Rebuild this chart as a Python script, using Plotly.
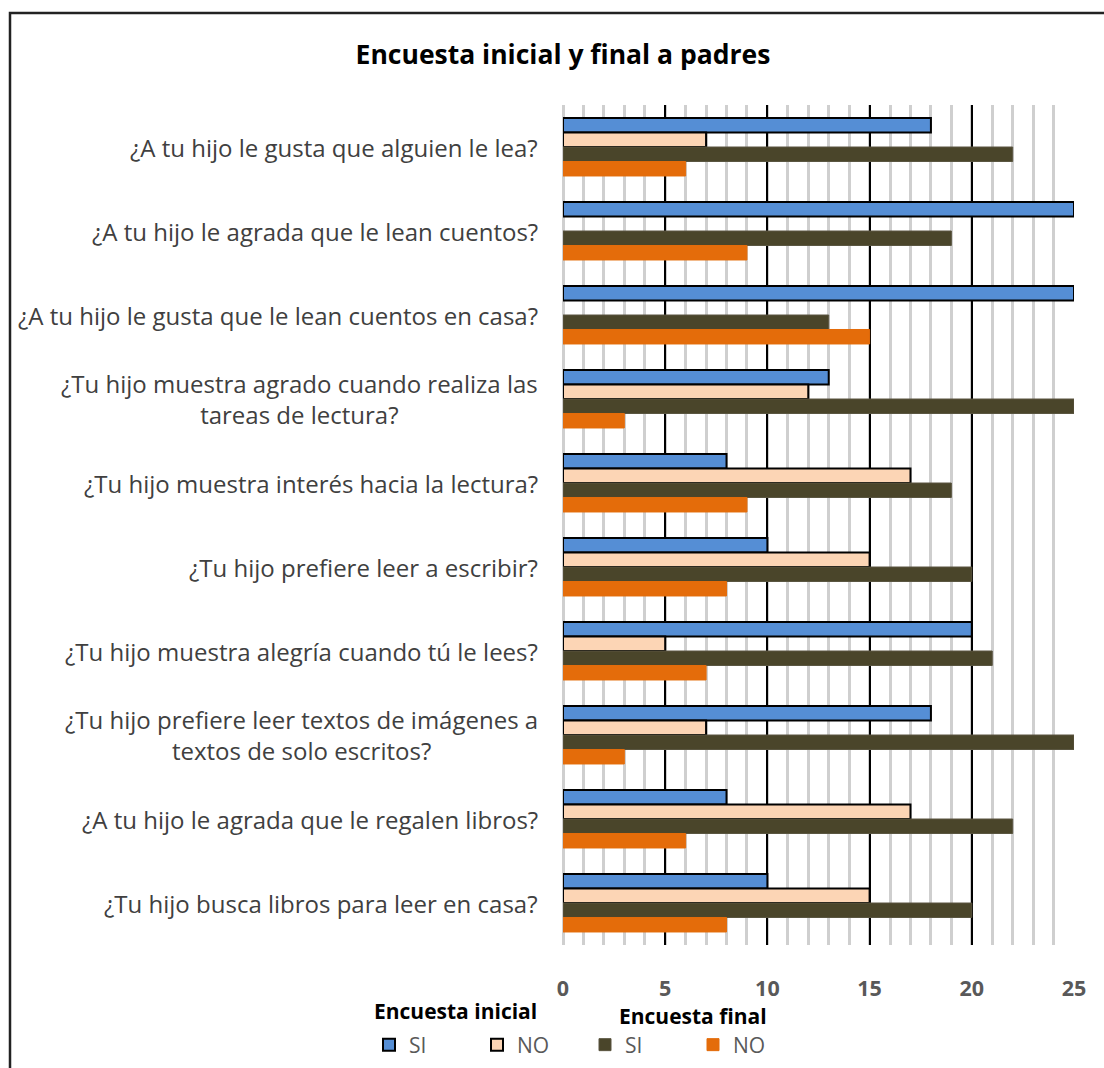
import plotly.graph_objects as go

# Survey questions (top to bottom)
preguntas = [
    "¿A tu hijo le gusta que alguien le lea?",
    "¿A tu hijo le agrada que le lean cuentos?",
    "¿A tu hijo le gusta que le lean cuentos en casa?",
    "¿Tu hijo muestra agrado cuando realiza las<br>tareas de lectura?",
    "¿Tu hijo muestra interés hacia la lectura?",
    "¿Tu hijo prefiere leer a escribir?",
    "¿Tu hijo muestra alegría cuando tú le lees?",
    "¿Tu hijo prefiere leer textos de imágenes a<br>textos de solo escritos?",
    "¿A tu hijo le agrada que le regalen libros?",
    "¿Tu hijo busca libros para leer en casa?",
]

inicial_si = [18, 25, 25, 13, 8, 10, 20, 18, 8, 10]
inicial_no = [7, 0, 0, 12, 17, 15, 5, 7, 17, 15]
final_si = [22, 19, 13, 25, 19, 20, 21, 25, 22, 20]
final_no = [6, 9, 15, 3, 9, 8, 7, 3, 6, 8]

ticks_x = [0, 5, 10, 15, 20, 25]

# plot-area geometry in pixels (used to place items outside the axes)
W, H = 1104, 1068
L, R, T, B = 563, 30, 105, 123
PW, PH = W - L - R, H - T - B


def px_x(px):
    return (px - L) / PW


def px_y(py):
    return (H - B - py) / PH


ids = list(range(len(preguntas)))


def outline(vals, w):
    return [0 if v == 0 else w for v in vals]


fig = go.Figure()
fig.add_trace(go.Bar(y=ids, x=inicial_si, orientation="h", name="SI",
                     marker=dict(color="#558ED5",
                                 line=dict(color="#000000", width=outline(inicial_si, 2)))))
fig.add_trace(go.Bar(y=ids, x=inicial_no, orientation="h", name="NO",
                     marker=dict(color="#FCD5B5",
                                 line=dict(color="#000000", width=outline(inicial_no, 2)))))
fig.add_trace(go.Bar(y=ids, x=final_si, orientation="h", name="SI",
                     marker=dict(color="#4A452A", line=dict(color="#5a5540", width=1))))
fig.add_trace(go.Bar(y=ids, x=final_no, orientation="h", name="NO",
                     marker=dict(color="#E46C0A", line=dict(color="#E46C0A", width=1))))

FONT = "Open Sans"
label_font = dict(family=FONT, size=24, color="#404040")
annotations = []
for i, q in enumerate(preguntas):
    annotations.append(dict(x=px_x(540), xref="paper", y=i, yref="y", text=q,
                            xanchor="right", yanchor="middle", align="center",
                            showarrow=False, font=label_font))

hdr_font = dict(family=FONT, size=21, color="#000000")
annotations.append(dict(x=px_x(455), y=px_y(1011), xref="paper", yref="paper",
                        text="<b>Encuesta inicial</b>", showarrow=False, font=hdr_font,
                        xanchor="center", yanchor="middle"))
annotations.append(dict(x=px_x(693), y=px_y(1016), xref="paper", yref="paper",
                        text="<b>Encuesta final</b>", showarrow=False, font=hdr_font,
                        xanchor="center", yanchor="middle"))

fig.update_layout(
    width=W, height=H,
    margin=dict(l=L, r=R, t=T, b=B, autoexpand=False),
    paper_bgcolor="white", plot_bgcolor="white",
    barmode="group", bargap=0.31, bargroupgap=0,
    title=dict(text="<b>Encuesta inicial y final a padres</b>", x=px_x(563), xref="paper",
               xanchor="center", y=1 - 55 / H, yanchor="middle",
               font=dict(family=FONT, size=26.5, color="#000000")),
    xaxis=dict(range=[0, 25], tickvals=ticks_x, showgrid=True, gridcolor="#000000",
               gridwidth=2, zeroline=True, zerolinecolor="#cfcfcf", zerolinewidth=3,
               showline=False, ticks="", ticklabelstandoff=28,
               tickfont=dict(family=FONT, size=21.5, color="#595959", weight="bold"),
               minor=dict(dtick=1, showgrid=True, gridcolor="#cfcfcf", gridwidth=3)),
    yaxis=dict(range=[len(preguntas) - 0.5, -0.5], showticklabels=False,
               showgrid=False, zeroline=False, showline=False, ticks=""),
    showlegend=True,
    legend=dict(orientation="h", x=px_x(369), y=px_y(1045), xanchor="left", yanchor="middle",
                entrywidth=63, entrywidthmode="pixels", traceorder="normal",
                font=dict(family=FONT, size=21, color="#595959"),
                itemclick=False, itemdoubleclick=False),
    annotations=annotations,
    shapes=[dict(type="rect", xref="paper", yref="paper",
                 x0=px_x(10), x1=px_x(1115), y0=px_y(1080), y1=px_y(13),
                 line=dict(color="#222222", width=2.5), layer="below")],
)

fig.write_html("out.html")
